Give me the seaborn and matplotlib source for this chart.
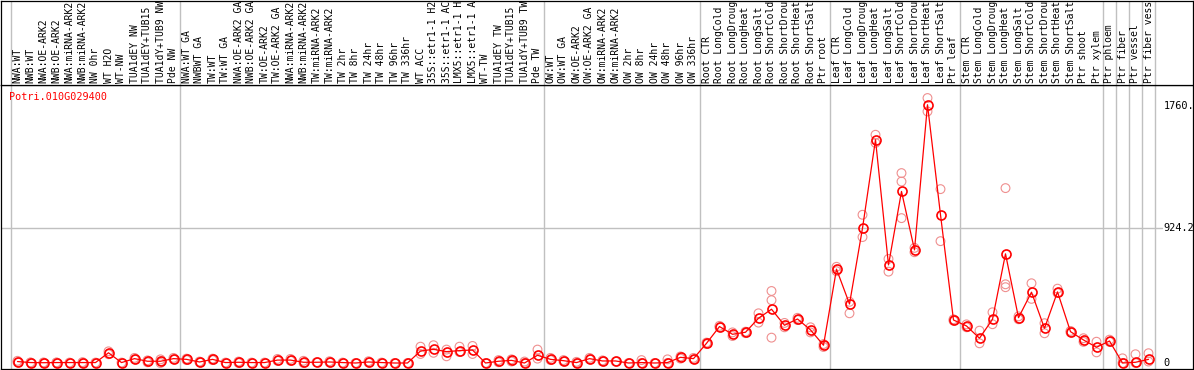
import numpy as np
import pandas as pd
import matplotlib
matplotlib.use('Agg')
import matplotlib.pyplot as plt
import seaborn as sns
from matplotlib.transforms import blended_transform_factory

# 数据: 样本名称
labels = [
    'NWA:WT', 'NWB:WT', 'NWA:OE-ARK2', 'NWB:OE-ARK2', 'NWA:miRNA-ARK2', 'NWB:miRNA-ARK2',
    'NW 0hr', 'WT H2O', 'WT-NW', 'TUA1dEY NW', 'TUA1dEY+TUB15 NW', 'TUA1dY+TUB9 NW', 'Pde NW',
    'NWA:WT GA', 'NWBWT GA', 'TW:WT', 'TW:WT GA', 'NWA:OE-ARK2 GA', 'NWB:OE-ARK2 GA',
    'TW:OE-ARK2', 'TW:OE-ARK2 GA', 'NWA:miRNA-ARK2', 'NWB:miRNA-ARK2', 'TW:miRNA-ARK2',
    'TW:miRNA-ARK2', 'TW 2hr', 'TW 8hr', 'TW 24hr', 'TW 48hr', 'TW 96hr', 'TW 336hr', 'WT ACC',
    '35S::etr1-1 H2O', '35S::etr1-1 ACC', 'LMX5::etr1-1 H2O', 'LMX5::etr1-1 ACC', 'WT-TW',
    'TUA1dEY TW', 'TUA1dEY+TUB15 TW', 'TUA1dY+TUB9 TW', 'Pde TW',
    'OW:WT', 'OW:WT GA', 'OW:OE-ARK2', 'OW:OE-ARK2 GA', 'OW:miRNA-ARK2', 'OW:miRNA-ARK2',
    'OW 2hr', 'OW 8hr', 'OW 24hr', 'OW 48hr', 'OW 96hr', 'OW 336hr',
    'Root CTR', 'Root LongCold', 'Root LongDrought', 'Root LongHeat', 'Root LongSalt',
    'Root ShortCold', 'Root ShortDrought', 'Root ShortHeat', 'Root ShortSalt', 'Ptr root',
    'Leaf CTR', 'Leaf LongCold', 'Leaf LongDrought', 'Leaf LongHeat', 'Leaf LongSalt',
    'Leaf ShortCold', 'Leaf ShortDrought', 'Leaf ShortHeat', 'Leaf ShortSalt', 'Ptr leaf',
    'Stem CTR', 'Stem LongCold', 'Stem LongDrought', 'Stem LongHeat', 'Stem LongSalt',
    'Stem ShortCold', 'Stem ShortDrought', 'Stem ShortHeat', 'Stem ShortSalt', 'Ptr shoot',
    'Ptr xylem', 'Ptr phloem', 'Ptr fiber', 'Ptr vessel', 'Ptr fiber vessel',
]

# 平均表达量
means = [
    10, 3, 2, 3, 3, 3, 3, 70, 3, 30, 12, 12, 30,
    25, 7, 25, 3, 5, 3, 3, 20, 20, 5, 5, 7, 3, 0, 7, 3, 0, 0, 82,
    94, 78, 85, 89, 0, 12, 18, 0, 53,
    25, 16, 3, 30, 14, 14, 0, 3, 0, 3, 39, 30,
    135, 250, 197, 211, 307, 369, 259, 302, 227, 122,
    644, 405, 925, 1532, 673, 1177, 776, 1772, 1017, 295,
    254, 170, 300, 749, 311, 486, 238, 488, 215, 158,
    108, 151, 0, 5, 25,
]

# 重复样本
reps = [
    [5, 15], [2, 4], [0, 4], [2, 4], [3], [0, 6], [3], [60, 80], [3], [25, 35], [5, 18],
    [0, 12, 25], [25, 35],
    [20, 30], [5, 10], [20, 30], [3], [0, 10], [3], [3], [15, 28], [15, 28], [0, 15], [5],
    [3, 12], [3], [0], [3, 12], [3], [0], [0], [112, 62],
    [122, 70], [92, 46], [112, 75], [117, 62], [0], [5, 20], [10, 25], [0, 10], [92, 30],
    [20, 35], [10, 20], [0, 8], [25, 35], [10, 18], [10], [0], [0, 20], [0], [0, 25],
    [30, 45], [25, 35],
    [130, 140], [245, 255], [185, 210], [205, 215], [341, 277], [494, 431, 174],
    [245, 275], [295, 310], [210, 245], [110, 130],
    [630, 660], [341, 420], [1017, 864], [1566, 1510], [714, 627], [1303, 1245, 994],
    [790, 760], [1818, 1726], [1193, 836], [290, 300],
    [245, 265], [222, 135], [348, 266], [1200, 540, 520], [300, 320], [547, 440],
    [273, 204], [510, 480], [210, 220], [145, 170],
    [73, 146], [145, 160], [0, 32], [0, 60], [10, 67],
]

group_sizes = [13, 28, 12, 10, 10, 11, 1, 1, 1, 1]
gene_name = 'Potri.010G029400'
ytick_vals = [0, 924.2, 1760]
ytick_text = ['0', '924.2', '1760.']

RED = '#ff0000'
PINK = '#ef8f8f'
GRAY = '#c0c0c0'

sns.set_style('white')
plt.rcParams['font.family'] = ['DejaVu Sans Mono']

W, H = 1194, 370
fig = plt.figure(figsize=(W / 100, H / 100), dpi=100)

# 主图区域 (像素: x 1..1193, y 85..369)
ax = fig.add_axes([1 / W, (H - 369) / H, 1192 / W, 284 / H])
# 标签区域 (像素: y 0.5..85)
ax_top = fig.add_axes([1 / W, (H - 85) / H, 1192 / W, 84.5 / H], sharex=ax)

n = len(labels)
df_mean = pd.DataFrame({'idx': np.arange(n), 'value': means})
df_reps = pd.DataFrame({
    'idx': [i for i, r in enumerate(reps) for _ in r],
    'value': [v for r in reps for v in r],
})

# 分组分隔线
bounds = np.concatenate([[0], np.cumsum(group_sizes)]) - 0.5
for b in bounds:
    ax.axvline(b, color=GRAY, lw=1.0, zorder=0)
    ax_top.axvline(b, color=GRAY, lw=1.0, zorder=0)

ax.axhline(924.2, xmax=0.974, color=GRAY, lw=1.0, zorder=0)

sns.scatterplot(data=df_reps, x='idx', y='value', ax=ax, s=40, color=PINK,
                linewidth=0.8, legend=False, zorder=2)
pts = ax.collections[-1]
pts.set_facecolor('none')
pts.set_edgecolor(PINK)

sns.lineplot(data=df_mean, x='idx', y='value', ax=ax, color=RED, lw=0.9,
             marker='o', markersize=6.5, markerfacecolor='none',
             markeredgecolor=RED, markeredgewidth=1.2, errorbar=None, zorder=3)

# 坐标范围: 类别间距 13 像素
ax.set_xlim((1 - 17.5) / 13, (1193 - 17.5) / 13)
scale = 924.2 / (363 - 228.3)
ax.set_ylim((363 - 369) * scale, (363 - 85) * scale)
ax.set_xticks([])
ax.set_yticks([])
ax.set_xlabel('')
ax.set_ylabel('')
for a in (ax, ax_top):
    for s in a.spines.values():
        s.set_color('black')
        s.set_linewidth(0.9)
    a.tick_params(left=False, bottom=False, labelleft=False, labelbottom=False)

ax_top.set_ylim(0, 1)
ax_top.set_yticks([])
trans = blended_transform_factory(ax_top.transData, ax_top.transAxes)
for i, lab in enumerate(labels):
    ax_top.text(i, 0.025, lab, rotation=90, ha='center', va='bottom',
                fontsize=7, color='black', transform=trans, clip_on=True)

ytrans = blended_transform_factory(ax.transAxes, ax.transData)
for v, t in zip(ytick_vals, ytick_text):
    ax.text(0.9755, v, t, ha='left', va='center', fontsize=7.4,
            color='black', transform=ytrans)

fig.text(9 / W, 1 - 97.5 / H, gene_name, color=RED, fontsize=7.3,
         ha='left', va='center')

fig.savefig('out.png', dpi=100)
